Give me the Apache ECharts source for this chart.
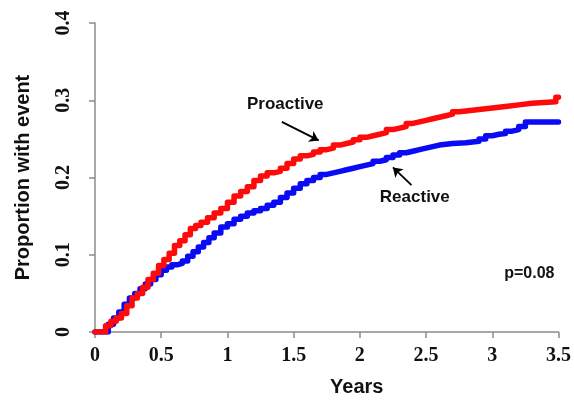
<!DOCTYPE html>
<html>
<head>
<meta charset="utf-8">
<script src="https://cdn.jsdelivr.net/npm/echarts@6/dist/echarts.min.js"></script>
<style>html,body{margin:0;padding:0;background:#fff}#c{width:574px;height:402px}</style>
</head>
<body>
<div id="c"></div>
<script>
// Proactive (red) cumulative incidence: times (years) and proportions
var proTimes = [0,0.06,0.08,0.12,0.16,0.2,0.24,0.28,0.32,0.36,0.40,0.44,0.48,0.52,0.56,0.60,0.64,0.68,0.72,0.76,0.80,0.85,0.90,0.95,1.0,1.05,1.10,1.15,1.2,1.25,1.3,1.35,1.4,1.45,1.5,1.55,1.6,1.65,1.7,1.75,1.8,1.85,1.9,1.95,2.0,2.05,2.1,2.15,2.2,2.25,2.3,2.35,2.4,2.45,2.5,2.55,2.6,2.65,2.7,2.75,2.8,2.85,2.9,3.0,3.05,3.1,3.2,3.3,3.48,3.5];
var proValues = [0,0,0.008,0.014,0.018,0.024,0.034,0.044,0.05,0.058,0.068,0.076,0.086,0.094,0.102,0.112,0.118,0.126,0.134,0.138,0.142,0.148,0.154,0.16,0.168,0.176,0.182,0.188,0.196,0.202,0.206,0.208,0.212,0.218,0.224,0.228,0.23,0.233,0.236,0.238,0.242,0.244,0.246,0.249,0.252,0.254,0.256,0.258,0.262,0.264,0.266,0.27,0.272,0.274,0.276,0.278,0.28,0.282,0.285,0.286,0.287,0.288,0.29,0.291,0.292,0.294,0.296,0.298,0.304,0.304];
// Reactive (blue)
var reaTimes = [0,0.06,0.1,0.14,0.18,0.22,0.26,0.3,0.34,0.38,0.42,0.46,0.5,0.54,0.58,0.62,0.66,0.7,0.74,0.78,0.82,0.86,0.9,0.95,1.0,1.05,1.1,1.15,1.2,1.25,1.3,1.35,1.4,1.45,1.5,1.55,1.6,1.65,1.7,1.75,1.8,1.85,1.9,1.95,2.0,2.05,2.1,2.15,2.2,2.25,2.3,2.35,2.4,2.45,2.5,2.55,2.6,2.65,2.7,2.8,2.85,2.9,2.95,3.0,3.05,3.1,3.15,3.2,3.25,3.5];
var reaValues = [0,0,0.01,0.018,0.026,0.036,0.044,0.05,0.056,0.062,0.068,0.074,0.08,0.084,0.087,0.089,0.092,0.098,0.104,0.11,0.116,0.122,0.128,0.136,0.14,0.146,0.15,0.154,0.157,0.16,0.164,0.168,0.174,0.18,0.186,0.192,0.196,0.2,0.204,0.206,0.208,0.21,0.212,0.214,0.216,0.218,0.221,0.223,0.226,0.229,0.232,0.234,0.236,0.238,0.24,0.242,0.243,0.244,0.245,0.246,0.247,0.25,0.254,0.256,0.257,0.26,0.262,0.266,0.272,0.272];
// Annotations (data coordinates)
var labelTexts = ['Proactive','Reactive','p=0.08'];
var labelCoords = [[1.437,0.295],[2.415,0.175],[3.28,0.075]];
var arrowLines = [[[1.411,0.272],[1.689,0.248]],[[2.39,0.190],[2.25,0.213]]];
var xTicks = [0,0.5,1,1.5,2,2.5,3,3.5];
var yTicks = [0,0.1,0.2,0.3,0.4];

function pairs(xs, ys){ return xs.map(function(x,i){return [x, ys[i]];}); }

var chart = echarts.init(document.getElementById('c'), null, {renderer:'canvas'});
var axisGray = '#8c8c8c';
chart.setOption({
  animation:false,
  backgroundColor:'#fff',
  grid:{left:95,right:13,top:23,bottom:70},
  xAxis:{
    type:'value', min:0, max:3.5, interval:0.5,
    name:'Years', nameLocation:'middle', nameGap:45,
    nameTextStyle:{fontFamily:'Liberation Sans', fontWeight:'bold', fontSize:20, color:'#111', padding:[0,0,0,60]},
    axisLine:{show:true, onZero:false, lineStyle:{color:axisGray, width:1.5}},
    axisTick:{show:true, length:6, lineStyle:{color:axisGray, width:1.5}},
    splitLine:{show:false},
    axisLabel:{margin:14, fontFamily:'Liberation Serif', fontWeight:'bold', fontSize:20, color:'#111',
      formatter:function(v){return String(v);}}
  },
  yAxis:{
    type:'value', min:0, max:0.4, interval:0.1,
    name:'Proportion with event', nameLocation:'middle', nameGap:62, nameRotate:90,
    nameTextStyle:{fontFamily:'Liberation Sans', fontWeight:'bold', fontSize:20, color:'#111'},
    axisLine:{show:true, lineStyle:{color:axisGray, width:1.5}},
    axisTick:{show:true, length:6, lineStyle:{color:axisGray, width:1.5}},
    splitLine:{show:false},
    axisLabel:{rotate:90, margin:21, fontFamily:'Liberation Serif', fontWeight:'bold', fontSize:20, color:'#111',
      formatter:function(v){return String(v);}}
  },
  series:[
    {type:'line', name:'Reactive', step:'end', showSymbol:false, symbol:'none',
     data:pairs(reaTimes, reaValues), lineStyle:{color:'#0a0af5', width:5.5, join:'round', cap:'round'}, itemStyle:{color:'#0a0af5'}, z:2},
    {type:'line', name:'Proactive', step:'end', showSymbol:false, symbol:'none',
     data:pairs(proTimes, proValues), lineStyle:{color:'#ff0a0a', width:5.5, join:'round', cap:'round'}, itemStyle:{color:'#ff0a0a'}, z:3,
     markLine:{silent:true, symbol:['none','arrow'], symbolSize:9, label:{show:false},
       lineStyle:{color:'#000', width:1.8, type:'solid'},
       data:arrowLines.map(function(a){return [{coord:a[0]},{coord:a[1]}];})},
     markPoint:{silent:true, symbol:'circle', symbolSize:0,
       data:labelCoords.map(function(c,i){return {coord:c, value:labelTexts[i],
         label:{show:true, position:'inside', formatter:labelTexts[i], fontFamily:'Liberation Sans', fontWeight:'bold',
           fontSize:(i===2?16:17), color:'#111'}};})}
    }
  ]
});
</script>
</body>
</html>
